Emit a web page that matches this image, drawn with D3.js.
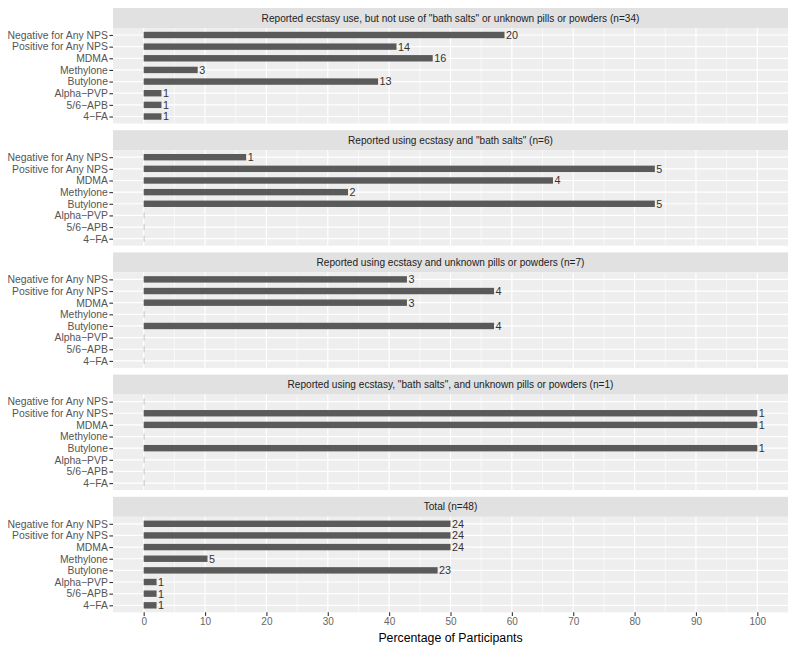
<!DOCTYPE html>
<html>
<head>
<meta charset="utf-8">
<script src="https://cdn.jsdelivr.net/npm/d3@7"></script>
<style>
  body { margin: 0; background: #fff; }
  svg { display: block; font-family: "Liberation Sans", Arial, Helvetica, sans-serif; }
</style>
</head>
<body>
<svg id="chart" width="800" height="655"></svg>
<script>
// ---- data ----
const categories = ["Negative for Any NPS", "Positive for Any NPS", "MDMA", "Methylone", "Butylone", "Alpha\u2212PVP", "5/6\u2212APB", "4\u2212FA"];
const panelTitles = [
  "Reported ecstasy use, but not use of \"bath salts\" or unknown pills or powders (n=34)",
  "Reported using ecstasy and \"bath salts\" (n=6)",
  "Reported using ecstasy and unknown pills or powders (n=7)",
  "Reported using ecstasy, \"bath salts\", and unknown pills or powders (n=1)",
  "Total (n=48)"
];
// percentage of participants per panel (in category order)
const pctEcstasyOnly   = [58.8, 41.2, 47.1, 8.8, 38.2, 2.9, 2.9, 2.9];
const pctBathSalts     = [16.7, 83.3, 66.7, 33.3, 83.3, 0, 0, 0];
const pctUnknownPills  = [42.9, 57.1, 42.9, 0, 57.1, 0, 0, 0];
const pctBoth          = [0, 100, 100, 0, 100, 0, 0, 0];
const pctTotal         = [50, 50, 50, 10.4, 47.9, 2.1, 2.1, 2.1];
// counts shown as labels
const nEcstasyOnly  = [20, 14, 16, 3, 13, 1, 1, 1];
const nBathSalts    = [1, 5, 4, 2, 5, 0, 0, 0];
const nUnknownPills = [3, 4, 3, 0, 4, 0, 0, 0];
const nBoth         = [0, 1, 1, 0, 1, 0, 0, 0];
const nTotal        = [24, 24, 24, 5, 23, 1, 1, 1];
const xTicks = [0, 10, 20, 30, 40, 50, 60, 70, 80, 90, 100];
const xMinor = [5, 15, 25, 35, 45, 55, 65, 75, 85, 95];

const pctSeries = [pctEcstasyOnly, pctBathSalts, pctUnknownPills, pctBoth, pctTotal];
const cntSeries = [nEcstasyOnly, nBathSalts, nUnknownPills, nBoth, nTotal];

// ---- layout ----
const svg = d3.select("#chart");
const left = 113, right = 788;
const firstTop = 8, period = 122.2, stripH = 20, panelH = 95.5;

const x = d3.scaleLinear().domain([-5, 105]).range([left, right]);

const panelBg = "#eeeeee", stripBg = "#e1e1e1", barColor = "#5a5a5a";
const ff = "\"Liberation Sans\", Arial, sans-serif";

panelTitles.forEach((title, i) => {
  const sTop = firstTop + i * period;
  const pTop = sTop + stripH;
  const pBot = pTop + panelH;
  const y = d3.scalePoint().domain(categories).range([pTop, pBot]).padding(0.6);
  const bw = y.step() * 0.55;
  const g = svg.append("g");

  // strip
  g.append("rect").attr("x", left).attr("y", sTop).attr("width", right - left).attr("height", stripH).attr("fill", stripBg);
  g.append("text").attr("x", (left + right) / 2).attr("y", sTop + stripH / 2).attr("dy", "0.35em")
    .attr("text-anchor", "middle").attr("font-size", 10.1).attr("fill", "#222").text(title);

  // panel
  g.append("rect").attr("x", left).attr("y", pTop).attr("width", right - left).attr("height", panelH).attr("fill", panelBg);
  g.selectAll("line.minor").data(xMinor).join("line")
    .attr("x1", d => x(d)).attr("x2", d => x(d)).attr("y1", pTop).attr("y2", pBot)
    .attr("stroke", "#fff").attr("stroke-width", 0.6);
  g.selectAll("line.majx").data(xTicks).join("line")
    .attr("x1", d => x(d)).attr("x2", d => x(d)).attr("y1", pTop).attr("y2", pBot)
    .attr("stroke", "#fff").attr("stroke-width", 1.2);
  g.selectAll("line.majy").data(categories).join("line")
    .attr("x1", left).attr("x2", right).attr("y1", d => y(d)).attr("y2", d => y(d))
    .attr("stroke", "#fff").attr("stroke-width", 1.2);

  const rows = categories.map((c, k) => ({ c, v: pctSeries[i][k], n: cntSeries[i][k] }));

  // bars
  g.selectAll("rect.bar").data(rows).join("rect")
    .attr("x", x(0))
    .attr("y", d => y(d.c) - bw / 2)
    .attr("width", d => d.v > 0 ? x(d.v) - x(0) : 0.8)
    .attr("height", bw)
    .attr("fill", d => d.v > 0 ? barColor : "#b5b5b5");

  // labels
  g.selectAll("text.val").data(rows.filter(d => d.n > 0)).join("text")
    .attr("x", d => x(d.v) + 1.5)
    .attr("y", d => y(d.c)).attr("dy", "0.36em")
    .attr("font-size", 10.8).attr("fill", "#333").text(d => d.n);

  // y axis
  const ay = g.append("g").attr("transform", `translate(${left},0)`)
    .call(d3.axisLeft(y).tickSize(3.6).tickPadding(1.5));
  ay.select(".domain").remove();
  ay.selectAll(".tick line").attr("stroke", "#333").attr("stroke-width", 1.1);
  ay.selectAll(".tick text").attr("font-size", 10.4).attr("fill", "#555").attr("font-family", ff);

  if (i === panelTitles.length - 1) {
    const ax = g.append("g").attr("transform", `translate(0,${pBot})`)
      .call(d3.axisBottom(x).tickValues(xTicks).tickSize(3.6).tickPadding(2.5));
    ax.select(".domain").remove();
    ax.selectAll(".tick line").attr("stroke", "#333").attr("stroke-width", 1.1);
    ax.selectAll(".tick text").attr("font-size", 10).attr("fill", "#666").attr("font-family", ff);
    svg.append("text").attr("x", (left + right) / 2).attr("y", pBot + 25).attr("dy", "0.35em")
      .attr("text-anchor", "middle").attr("font-size", 12.3).attr("fill", "#000")
      .text("Percentage of Participants");
  }
});
</script>
</body>
</html>
